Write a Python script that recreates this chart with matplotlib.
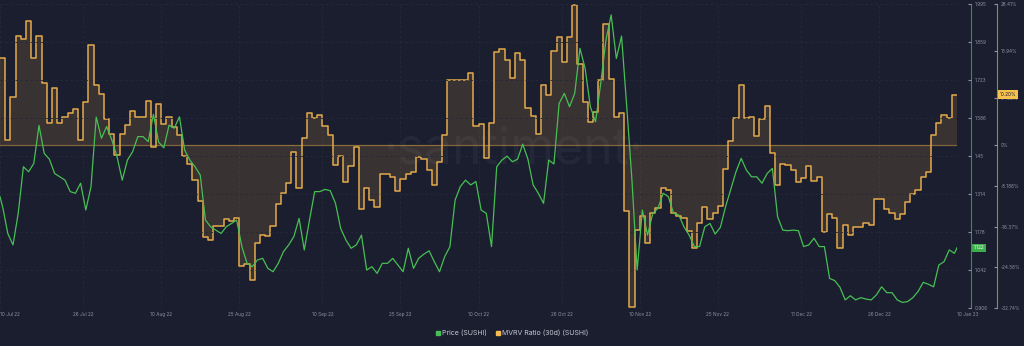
import numpy as np
import pandas as pd
import matplotlib
matplotlib.use("Agg")
import matplotlib.pyplot as plt
import matplotlib.dates as mdates
from matplotlib.lines import Line2D
from matplotlib.transforms import blended_transform_factory

# ── Data ────────────────────────────────────────────────────────────────────
START = "2022-07-10"
END = "2023-01-10"

# MVRV Ratio (30d), one value per day, in percent
MVRV = [
    17.6, 1.0, 9.8, 22.0, 21.3, 24.9, 17.5, 21.9, 12.5, 4.5,
    11.5, 4.5, 5.6, 6.4, 7.2, 1.0, 8.7, 20.2, 12.2, 10.3,
    5.3, 2.3, -2.0, 2.3, 4.0, 6.8, 5.7, 5.6, 9.0, -0.3,
    8.3, 4.3, 5.7, 3.7, 2.0, -2.2, -3.7, -7.0, -11.3, -18.5,
    -19.1, -16.3, -16.3, -14.9, -15.3, -14.7, -24.3, -23.9, -27.2, -19.7,
    -18.0, -18.3, -16.2, -11.8, -9.7, -7.6, -1.3, -8.7, 1.5, 6.5,
    5.5, 6.1, 3.8, 2.1, -3.9, -2.2, -7.3, -4.2, -0.3, -12.9,
    -8.7, -11.0, -12.5, -5.7, -5.7, -6.3, -9.2, -6.7, -5.8, -5.4,
    -2.3, -2.8, -5.0, -8.0, -3.4, 2.0, 13.1, 13.1, 13.1, 13.2,
    14.5, 3.8, 4.2, -2.5, 4.4, 18.8, 19.3, 17.1, 13.5, 18.6,
    17.1, 7.4, 5.8, 2.2, 12.1, 10.1, 18.9, 21.8, 16.8, 21.7,
    28.2, 16.4, 8.6, 4.7, 6.6, 13.1, 24.3, 13.4, 5.6, 6.5,
    -13.2, -32.5, -17.1, -14.3, -19.7, -13.7, -12.7, -8.7, -9.0, -13.7,
    -14.3, -14.7, -17.3, -20.7, -15.7, -12.5, -14.9, -13.7, -12.2, -4.7,
    0.8, 5.5, 12.2, 5.5, 5.7, 1.9, 5.3, 7.8, -1.5, -8.0,
    -3.7, -4.0, -5.0, -7.3, -6.5, -4.1, -7.2, -6.3, -17.5, -13.9,
    -14.7, -20.7, -16.1, -18.1, -16.5, -16.4, -15.7, -16.0, -10.8, -10.8,
    -12.9, -13.7, -14.8, -13.8, -11.5, -9.8, -9.0, -6.3, -5.3, 2.0,
    4.5, 6.0, 5.5, 10.2,
]

# SUSHI price (USD), mid-day readings
PRICE_FIRST = 1.305   # 10 Jul 00:00
PRICE = [
    1.269, 1.173, 1.132, 1.245, 1.412, 1.394, 1.424, 1.560, 1.460, 1.439,
    1.388, 1.376, 1.364, 1.323, 1.317, 1.353, 1.257, 1.341, 1.590, 1.514,
    1.556, 1.508, 1.448, 1.364, 1.436, 1.466, 1.520, 1.520, 1.502, 1.600,
    1.500, 1.480, 1.561, 1.550, 1.591, 1.472, 1.436, 1.412, 1.382, 1.221,
    1.197, 1.185, 1.173, 1.197, 1.209, 1.221, 1.126, 1.066, 1.054, 1.078,
    1.084, 1.048, 1.036, 1.066, 1.108, 1.132, 1.162, 1.227, 1.114, 1.221,
    1.323, 1.323, 1.331, 1.326, 1.281, 1.191, 1.150, 1.120, 1.132, 1.167,
    1.042, 1.054, 1.030, 1.066, 1.066, 1.084, 1.060, 1.036, 1.120, 1.048,
    1.084, 1.099, 1.111, 1.072, 1.036, 1.090, 1.126, 1.293, 1.341, 1.364,
    1.347, 1.359, 1.257, 1.245, 1.126, 1.412, 1.436, 1.450, 1.430, 1.439,
    1.493, 1.439, 1.347, 1.317, 1.281, 1.436, 1.422, 1.639, 1.675, 1.627,
    1.675, 1.836, 1.764, 1.627, 1.573, 1.711, 1.866, 1.956, 1.800, 1.880,
    1.627, 1.364, 1.042, 1.257, 1.167, 1.245, 1.263, 1.317, 1.305, 1.245,
    1.239, 1.197, 1.167, 1.126, 1.126, 1.197, 1.209, 1.171, 1.195, 1.269,
    1.331, 1.394, 1.442, 1.400, 1.376, 1.376, 1.353, 1.388, 1.406, 1.233,
    1.185, 1.183, 1.185, 1.183, 1.126, 1.132, 1.156, 1.126, 1.126, 1.012,
    1.004, 0.980, 0.935, 0.950, 0.935, 0.943, 0.938, 0.935, 0.953, 0.982,
    0.961, 0.961, 0.935, 0.926, 0.929, 0.943, 0.965, 0.998, 0.991, 0.982,
    1.060, 1.072, 1.114, 1.102,
]
PRICE_LAST = 1.122    # 10 Jan 00:00
MVRV_LAST = 10.20

PRICE_TICKS = [0.906, 1.042, 1.178, 1.314, 1.45, 1.586, 1.723, 1.859, 1.995]
PRICE_TICK_LABELS = ["0.906", "1.042", "1.178", "1.314", "1.45", "1.586",
                     "1.723", "1.859", "1.995"]
MVRV_TICKS = [-32.74, -24.56, -16.37, -8.186, 0, 9.469, 18.94, 28.41]
MVRV_TICK_LABELS = ["-32.74%", "-24.56%", "-16.37%", "-8.186%", "0%",
                    "9.469%", "18.94%", "28.41%"]
DATE_TICKS = ["2022-07-10", "2022-07-26", "2022-08-10", "2022-08-25",
              "2022-09-10", "2022-09-25", "2022-10-10", "2022-10-26",
              "2022-11-10", "2022-11-25", "2022-12-11", "2022-12-26",
              "2023-01-10"]
DATE_TICK_LABELS = ["10 Jul 22", "26 Jul 22", "10 Aug 22", "25 Aug 22",
                    "10 Sep 22", "25 Sep 22", "10 Oct 22", "26 Oct 22",
                    "10 Nov 22", "25 Nov 22", "11 Dec 22", "26 Dec 22",
                    "10 Jan 23"]

# ── Style ───────────────────────────────────────────────────────────────────
BG = "#1b1e2e"
GREEN = "#47bf55"
YELLOW = "#e3aa4c"
TICK_COLOR = "#8c91a3"
GRID_COLOR = "#252939"

plt.rcParams["font.family"] = ["Inter", "DejaVu Sans"]

fig = plt.figure(figsize=(10.24, 3.46), dpi=100, facecolor=BG)
ax_m = fig.add_axes([0.0, 0.1098, 0.9346, 0.8786])
ax_p = ax_m.twinx()
ax_m.set_facecolor(BG)
ax_p.patch.set_visible(False)

# MVRV (step, filled to zero)
days = pd.date_range(START, periods=len(MVRV) + 1, freq="D")
mvrv_ext = MVRV + [MVRV[-1]]
ax_m.fill_between(days, mvrv_ext, 0, step="post", color=YELLOW, alpha=0.15,
                  linewidth=0, zorder=1)
ax_m.step(days, mvrv_ext, where="post", color=YELLOW, lw=1.1, zorder=2)
ax_m.axhline(0, color=YELLOW, alpha=0.5, lw=0.9, zorder=2)

# price line
mid = pd.date_range(START + " 12:00", periods=len(PRICE), freq="D")
p_dates = pd.DatetimeIndex([pd.Timestamp(START)]).append(mid).append(
    pd.DatetimeIndex([pd.Timestamp(END)]))
p_vals = [PRICE_FIRST] + PRICE + [PRICE_LAST]
ax_p.plot(p_dates, p_vals, color=GREEN, lw=0.9, zorder=3)

# axes limits and ticks
ax_m.set_xlim(pd.Timestamp(START), pd.Timestamp(END))
ax_m.set_ylim(-32.74, 28.41)
ax_p.set_ylim(0.906, 1.995)

ax_m.set_xticks([pd.Timestamp(d) for d in DATE_TICKS])
ax_m.set_xticklabels(DATE_TICK_LABELS)
ax_m.tick_params(axis="x", length=0, pad=3, labelsize=3.4, colors=TICK_COLOR)
xt = ax_m.get_xticklabels()
xt[0].set_ha("left")
xt[-1].set_ha("left")

ax_m.yaxis.tick_right()
ax_m.set_yticks(MVRV_TICKS)
ax_m.set_yticklabels(MVRV_TICK_LABELS)
ax_m.tick_params(axis="y", direction="in", length=2, pad=2.5, labelsize=3.4,
                 colors=TICK_COLOR)
ax_p.set_yticks(PRICE_TICKS)
ax_p.set_yticklabels(PRICE_TICK_LABELS)
ax_p.tick_params(axis="y", direction="in", length=2, pad=2.5, labelsize=3.4,
                 colors=TICK_COLOR)

for s in ["top", "left", "bottom"]:
    ax_m.spines[s].set_visible(False)
    ax_p.spines[s].set_visible(False)
ax_m.spines["right"].set_position(("axes", 1.0418))
ax_m.spines["right"].set_color(YELLOW)
ax_m.spines["right"].set_alpha(0.7)
ax_p.spines["right"].set_position(("axes", 1.0146))
ax_p.spines["right"].set_color(GREEN)
ax_p.spines["right"].set_alpha(0.7)

# faint dashed grid
ax_m.grid(axis="x", color=GRID_COLOR, ls=(0, (3, 3)), lw=0.6)
ax_p.grid(axis="y", color=GRID_COLOR, ls=(0, (3, 3)), lw=0.6)
ax_m.set_axisbelow(True)

# watermark
ax_m.text(0.536, 0.52, "\u00b7santiment\u00b7", transform=ax_m.transAxes,
          ha="center", va="center", fontsize=36, color="white", alpha=0.045,
          zorder=0.5)

# last-value badges
tr_p = blended_transform_factory(ax_p.transAxes, ax_p.transData)
ax_p.text(1.0175, PRICE_LAST, f"{PRICE_LAST:.3f}", transform=tr_p,
          ha="left", va="center", fontsize=3.4, color="white", zorder=5,
          bbox=dict(boxstyle="square,pad=0.35", fc="#3dae4e", ec="none"))
tr_m = blended_transform_factory(ax_m.transAxes, ax_m.transData)
ax_m.text(1.0448, MVRV_LAST, f"{MVRV_LAST:.2f}%", transform=tr_m,
          ha="left", va="center", fontsize=3.4, color="#1b1e2e", zorder=6,
          bbox=dict(boxstyle="square,pad=0.35", fc="#f4c04e", ec="none"))

# legend
handles = [
    Line2D([], [], ls="none", marker="s", ms=3.2, color=GREEN,
           label="Price (SUSHI)"),
    Line2D([], [], ls="none", marker="s", ms=3.2, color="#f5bd4f",
           label="MVRV Ratio (30d) (SUSHI)"),
]
fig.legend(handles=handles, loc="center", bbox_to_anchor=(0.5, 0.038),
           ncol=2, frameon=False, fontsize=5, labelcolor="#c4c8d4",
           handletextpad=0.2, columnspacing=1.2, handlelength=0.8)

fig.savefig("out.png", dpi=100, facecolor=BG)
